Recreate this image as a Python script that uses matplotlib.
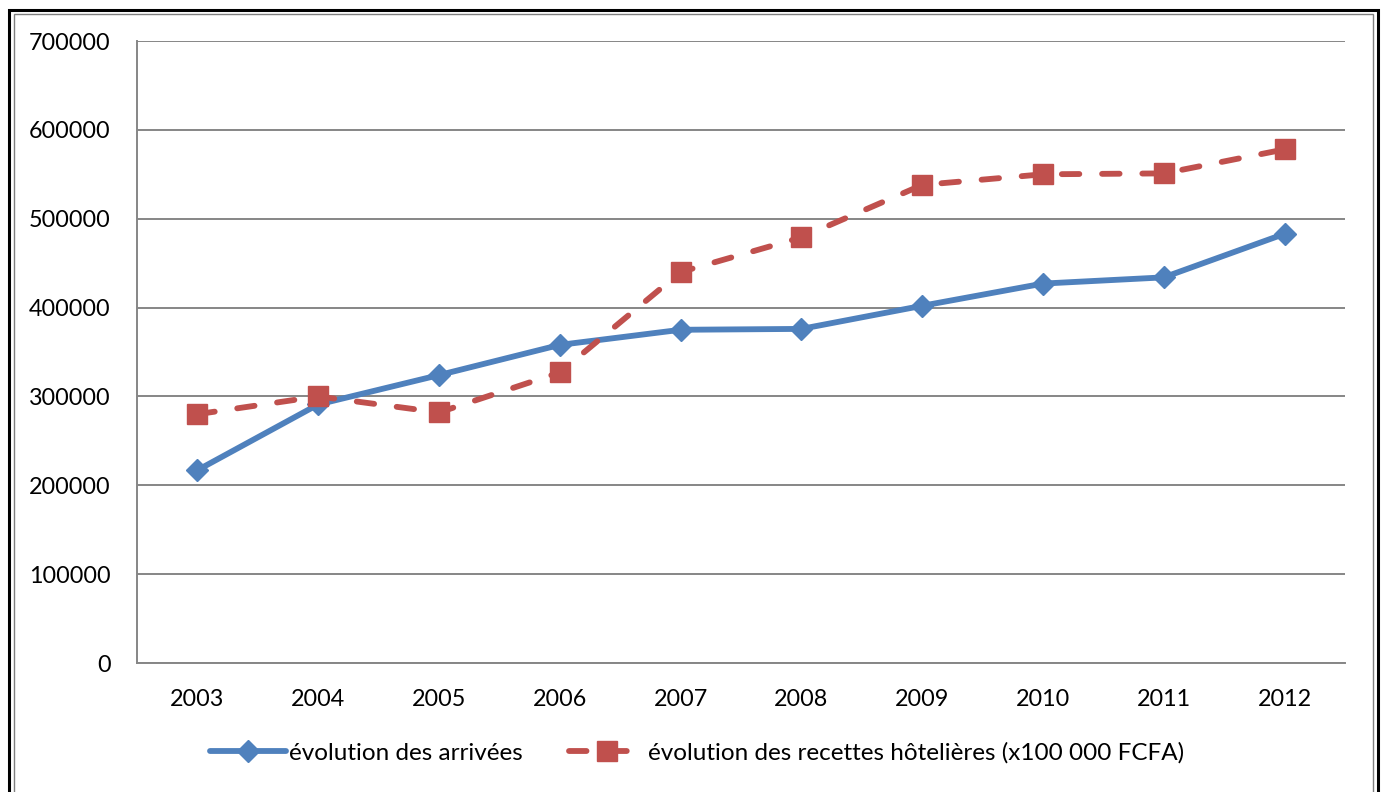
import matplotlib
matplotlib.use("Agg")
import matplotlib.pyplot as plt
from matplotlib.patches import Rectangle

years = ["2003", "2004", "2005", "2006", "2007", "2008", "2009", "2010", "2011", "2012"]
arrivees = [217000, 291000, 324000, 358000, 375000, 376000, 402000, 427000, 434000, 483000]
recettes = [280000, 300000, 282000, 327000, 440000, 479000, 538000, 550000, 551000, 578000]
yticks = [0, 100000, 200000, 300000, 400000, 500000, 600000, 700000]
label_a = "évolution des arrivées"
label_r = "évolution des recettes hôtelières (x100 000 FCFA)"

plt.rcParams['font.family'] = ['Lato', 'DejaVu Sans']

fig = plt.figure(figsize=(13.82, 7.92), dpi=100)
ax = fig.add_axes([137/1382, 1-663/792, (1345-137)/1382, (663-41)/792])

x = list(range(len(years)))
ax.plot(x, arrivees, color="#4F81BD", lw=4.2, marker="D", markersize=11,
        label=label_a, solid_capstyle="round")
ax.plot(x, recettes, color="#C0504D", lw=4.2, ls=(0, (3.0, 3.9)), marker="s", markersize=14,
        label=label_r, dash_capstyle="round")

ax.set_xlim(-0.5, len(years)-0.5)
ax.set_ylim(0, 700000)
ax.set_yticks(yticks)
ax.set_yticklabels([str(v) for v in yticks])
ax.set_xticks(x)
ax.set_xticklabels(years)
ax.tick_params(axis='both', length=0, labelsize=16.8, colors="black")
ax.tick_params(axis='y', pad=19)
ax.tick_params(axis='x', pad=19)
ax.grid(axis='y', color="#868686", lw=1.4)
ax.set_axisbelow(True)
for s in ["top", "right"]:
    ax.spines[s].set_visible(False)
for s in ["left", "bottom"]:
    ax.spines[s].set_color("#868686")
    ax.spines[s].set_linewidth(1.4)

leg = fig.legend(loc="center", bbox_to_anchor=(0.5045, 1-753/792), ncol=2, frameon=False,
                 fontsize=17.5, handlelength=3.1, columnspacing=1.9, handletextpad=0.15)

# outer double border
fig.patches.append(Rectangle((9/1382, -0.05), (1378-9)/1382, 1.05-10/792, transform=fig.transFigure,
                             fill=False, ec="black", lw=2.2))
fig.patches.append(Rectangle((14/1382, -0.05), (1373-14)/1382, 1.05-14/792, transform=fig.transFigure,
                             fill=False, ec="#7F7F7F", lw=1.0))

fig.savefig("out.png", dpi=100)
